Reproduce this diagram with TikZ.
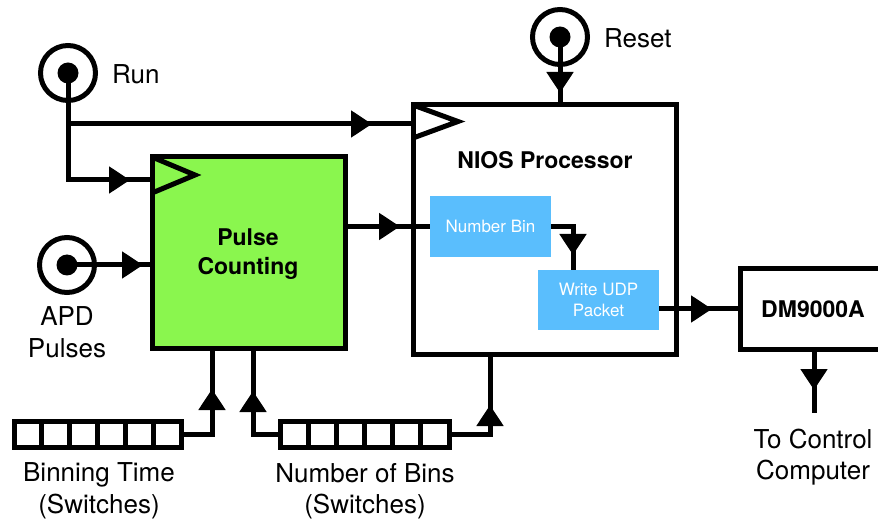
\documentclass[tikz,border=0pt]{standalone}
\usepackage{fontspec}
\setmainfont{TeX Gyre Heros}
\usetikzlibrary{arrows.meta,decorations.markings,calc}
\definecolor{pgreen}{RGB}{138,246,78}
\definecolor{pblue}{RGB}{90,190,253}
\tikzset{
  wire/.style={line width=5pt},
  marr/.style={postaction={decorate,decoration={markings,mark=at position #1 with {\arrow{Triangle[length=21pt,width=26pt]}}}}},
  blk/.style={draw,line width=5pt,rectangle,inner sep=0pt,outer sep=0pt},
  jack/.style={draw,circle,line width=5pt,minimum size=55pt,inner sep=0pt,outer sep=0pt,
    path picture={\fill (path picture bounding box.center) circle (10.5pt);}},
  lbl/.style={font=\fontsize{26}{31.5}\selectfont,align=center,inner sep=0pt},
  blbl/.style={font=\fontsize{23}{29}\selectfont\bfseries,align=center,inner sep=0pt},
  wlbl/.style={text=white,font=\fontsize{17}{21}\selectfont,align=center,inner sep=0pt},
  bluebox/.style={fill=pblue,rectangle,inner sep=0pt,outer sep=0pt},
  switchbox/.style={draw,line width=5pt,rectangle,inner sep=0pt,outer sep=0pt,minimum height=26pt}
}
\begin{document}
\begin{tikzpicture}[x=1pt,y=-1pt,line join=miter]
\useasboundingbox (0,0) rectangle (878,521);
\clip (0,0) rectangle (878,521);
% blocks
\node[blk,fill=pgreen,minimum width=193pt,minimum height=191pt] (pulse) at (248.5,252.5) {};
\node[blk,minimum width=263pt,minimum height=249pt] (nios) at (544.5,229.5) {};
\node[blk,minimum width=148pt,minimum height=80pt] (dm) at (814,309) {};
\node[bluebox,minimum width=121pt,minimum height=61pt] (nb) at (490.5,226.5) {};
\node[bluebox,minimum width=121pt,minimum height=60pt] (wu) at (598.5,300) {};
\node[switchbox,minimum width=167pt] (sw1) at (97.5,434.5) {};
\node[switchbox,minimum width=168.5pt] (sw2) at (364.75,434.5) {};
\foreach \s in {sw1,sw2}{
  \foreach \i in {1,...,5}{
    \draw[wire] ($(\s.north west)!\i/6!(\s.north east)$) -- ($(\s.south west)!\i/6!(\s.south east)$);
  }
}
% clock triangles
\draw[wire] (pulse.north west) -- ++(43,18) -- ++(-43,18);
\draw[wire] (nios.north west) -- ++(45,16.5) -- ++(-45,16.5);
% texts
\node[blbl] (pulseT) at (248,254) {Pulse\\Counting};
\node[blbl] (niosT) at (545,160) {NIOS Processor};
\node[blbl] (dmT) at (813,309) {DM9000A};
\node[wlbl] (nbT) at (nb) {Number Bin};
\node[wlbl] (wuT) at (wu) {Write UDP\\Packet};
% jacks
\node[jack] (run) at (68,73) {};
\node[jack] (reset) at (560,37) {};
\node[jack] (apd) at (67,265) {};
\node[lbl,anchor=west] (runT) at (112,74) {Run};
\node[lbl,anchor=west] (resetT) at (604,38) {Reset};
\node[lbl] (apdT) at (67,332) {APD\\Pulses};
\node[lbl] (sw1T) at (99,491) {Binning Time\\(Switches)};
\node[lbl] (sw2T) at (365,491) {Number of Bins\\(Switches)};
\node[lbl] (pcT) at (813,457) {To Control\\Computer};
% connectors
\coordinate (niosclk) at ($(nios.north west)+(0,19)$);
\coordinate (pulseclk) at ($(pulse.north west)+(0,23)$);
\draw[wire,marr=-41pt] (run.center) |- (niosclk);
\draw[wire,marr=-22pt] (run.center) |- (pulseclk);
\draw[wire,marr=-9pt] (apd.center) -- (apd.center -| pulse.west);
\draw[wire,marr=-12pt] (reset.center) -- (reset.center |- nios.north);
\draw[wire,marr=-30pt] (pulse.east |- nb.west) -- (nb.west);
\coordinate (wuin) at ($(wu.north west)+(35,0)$);
\draw[wire,marr=-15pt] (nb.east) -| (wuin);
\draw[wire,marr=-28pt] (wu.east |- dm.west) -- (dm.west);
\coordinate (pcend) at (814,413);
\draw[wire,marr=-23pt] (dm.south) -- (pcend);
\coordinate (sw1in) at ($(pulse.south west)+(60,0)$);
\coordinate (sw2in) at ($(pulse.south west)+(101,0)$);
\coordinate (sw2nios) at ($(nios.south west)+(77,0)$);
\draw[wire,marr=-41pt] (sw1.east) -| (sw1in);
\draw[wire,marr=-43pt] (sw2.west) -| (sw2in);
\draw[wire,marr=-51pt] (sw2.east) -| (sw2nios);
\end{tikzpicture}
\end{document}
